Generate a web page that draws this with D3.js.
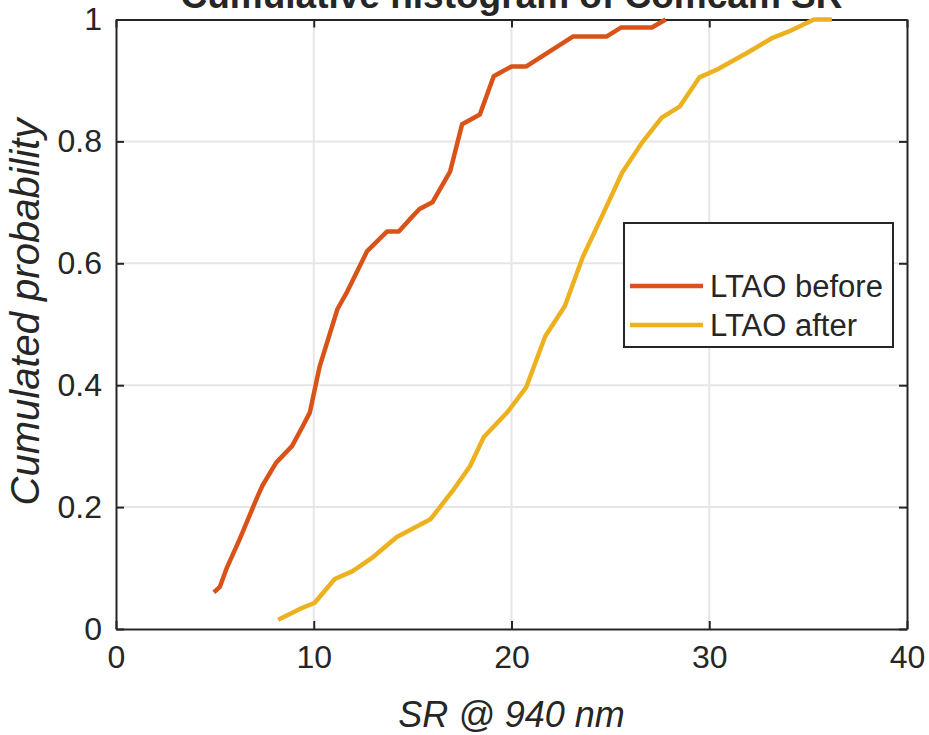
<!DOCTYPE html>
<html>
  <head>
    <meta charset="UTF-8" />
    <script src="https://d3js.org/d3.v7.min.js"></script>
    <title>Cumulative histogram of Comcam SR</title>
    <style>
      body { margin: 0; background: #fff; }
      text { font-family: "Liberation Sans", Arial, sans-serif; fill: #262626; }
    </style>
  </head>

  <body>
    <div id="chart"></div>
    <script type="text/javascript">
      // Data
      const beforeSR = [4.95, 5.25, 5.6, 6.26, 7.1, 7.4, 8.1, 8.9, 9.45, 9.8, 10.3, 11.2, 11.7, 12.7, 13.7, 14.3,
        14.85, 15.35, 16.0, 16.9, 17.5, 18.4, 19.1, 20.0, 20.75, 23.1, 24.8, 25.55, 27.1, 27.8];
      const beforeProb = [0.06, 0.069, 0.1, 0.148, 0.213, 0.235, 0.273, 0.3, 0.333, 0.355, 0.431, 0.525, 0.554, 0.62, 0.652, 0.652,
        0.672, 0.689, 0.7, 0.751, 0.828, 0.844, 0.907, 0.923, 0.923, 0.972, 0.972, 0.987, 0.987, 1.0];
      const afterSR = [8.2, 9.3, 10.05, 11.06, 11.97, 13.0, 14.2, 15.9, 17.1, 17.9, 18.6, 19.8, 20.75, 21.7, 22.7, 23.6,
        24.5, 25.6, 26.6, 27.6, 28.5, 29.5, 30.4, 31.9, 33.2, 34.0, 35.3, 36.2];
      const afterProb = [0.015, 0.033, 0.043, 0.082, 0.095, 0.118, 0.151, 0.18, 0.23, 0.267, 0.315, 0.356, 0.397, 0.48, 0.53, 0.61,
        0.672, 0.749, 0.798, 0.839, 0.857, 0.905, 0.918, 0.945, 0.97, 0.98, 1.0, 1.0];
      const seriesNames = ["LTAO before", "LTAO after"];
      const seriesColors = ["#D95319", "#EDB120"];
      const xTicks = [0, 10, 20, 30, 40];
      const yTicks = [0, 0.2, 0.4, 0.6, 0.8, 1];

      const w = 929;
      const h = 735;
      // plot box edges
      const pLeft = 116, pRight = 907, pTop = 19.5, pBottom = 629;
      const axisColor = "#262626";
      const tickLen = 8;

      const xScale = d3.scaleLinear().domain([0, 40]).range([pLeft, pRight]);
      const yScale = d3.scaleLinear().domain([0, 1]).range([pBottom, pTop]);

      const svg = d3.select("#chart").append("svg").attr("width", w).attr("height", h);

      // grid
      svg.append("g")
        .selectAll("line")
        .data(xTicks.slice(1, -1))
        .enter()
        .append("line")
        .attr("x1", (d) => xScale(d)).attr("x2", (d) => xScale(d))
        .attr("y1", pTop).attr("y2", pBottom)
        .attr("stroke", "#e6e6e6").attr("stroke-width", 2);
      svg.append("g")
        .selectAll("line")
        .data(yTicks.slice(1, -1))
        .enter()
        .append("line")
        .attr("y1", (d) => yScale(d)).attr("y2", (d) => yScale(d))
        .attr("x1", pLeft).attr("x2", pRight)
        .attr("stroke", "#e6e6e6").attr("stroke-width", 2);

      // axes box (matlab style, ticks on all four sides pointing in)
      svg.append("g")
        .attr("transform", "translate(0," + pBottom + ")")
        .call(d3.axisBottom(xScale).tickValues(xTicks).tickSizeInner(-tickLen).tickSizeOuter(0).tickPadding(16).tickFormat(d3.format("d")));
      svg.append("g")
        .attr("transform", "translate(0," + pTop + ")")
        .call(d3.axisTop(xScale).tickValues(xTicks).tickSizeInner(-tickLen).tickSizeOuter(0).tickFormat(""));
      svg.append("g")
        .attr("transform", "translate(" + pLeft + ",0)")
        .call(d3.axisLeft(yScale).tickValues(yTicks).tickSizeInner(-tickLen).tickSizeOuter(0).tickPadding(14).tickFormat((d) => String(d)));
      svg.append("g")
        .attr("transform", "translate(" + pRight + ",0)")
        .call(d3.axisRight(yScale).tickValues(yTicks).tickSizeInner(-tickLen).tickSizeOuter(0).tickFormat(""));

      svg.selectAll(".domain").attr("stroke", axisColor).attr("stroke-width", 2);
      svg.selectAll(".tick line").attr("stroke", axisColor).attr("stroke-width", 2);
      svg.selectAll(".tick text").style("font-size", "32px").attr("fill", axisColor);

      // the curves
      const line = d3.line()
        .x((d) => xScale(d[0]))
        .y((d) => yScale(d[1]));

      const series = [d3.zip(beforeSR, beforeProb), d3.zip(afterSR, afterProb)];
      svg.append("g")
        .selectAll("path")
        .data(series)
        .enter()
        .append("path")
        .attr("d", line)
        .attr("fill", "none")
        .attr("stroke", (d, i) => seriesColors[i])
        .attr("stroke-width", 4.5)
        .attr("stroke-linejoin", "round");

      // legend
      const lg = svg.append("g");
      lg.append("rect")
        .attr("x", 624).attr("y", 223).attr("width", 269).attr("height", 124)
        .attr("fill", "#fff").attr("stroke", axisColor).attr("stroke-width", 2);
      const items = lg.selectAll("g.item")
        .data(seriesNames)
        .enter()
        .append("g")
        .attr("transform", (d, i) => "translate(0," + (286 + i * 39) + ")");
      items.append("line")
        .attr("x1", 630).attr("x2", 703)
        .attr("stroke", (d, i) => seriesColors[i]).attr("stroke-width", 4.5);
      items.append("text")
        .attr("x", 710).attr("y", 11)
        .style("font-size", "31px")
        .text((d) => d);

      // labels
      svg.append("text")
        .attr("x", (pLeft + pRight) / 2).attr("y", 727)
        .attr("text-anchor", "middle")
        .style("font-size", "36px").style("font-style", "italic")
        .text("SR @ 940 nm");
      svg.append("text")
        .attr("transform", "translate(39,312) rotate(-90)")
        .attr("text-anchor", "middle")
        .style("font-size", "40px").style("font-style", "italic")
        .text("Cumulated probability");
      // title sits mostly above the window, as in the source picture
      svg.append("text")
        .attr("x", (pLeft + pRight) / 2).attr("y", 8)
        .attr("text-anchor", "middle")
        .style("font-size", "37px").style("font-weight", "bold")
        .text("Cumulative histogram of Comcam SR");
    </script>
  </body>
</html>
